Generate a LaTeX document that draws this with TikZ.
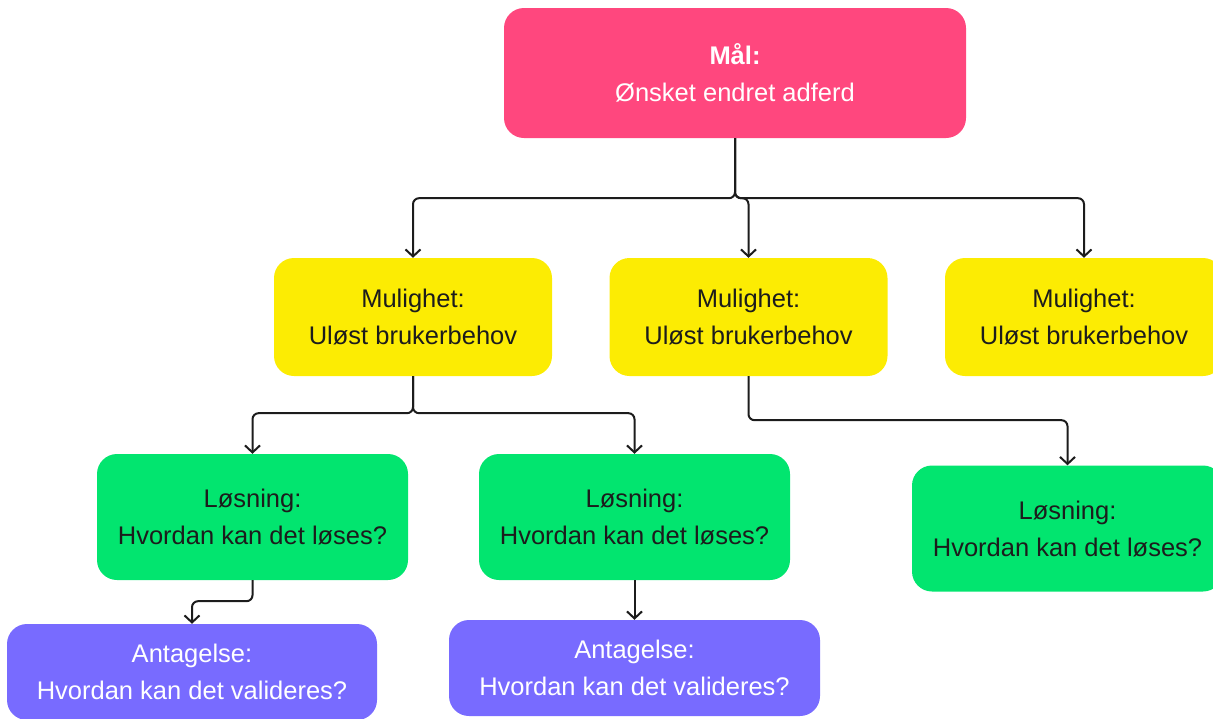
\documentclass[tikz,border=0pt]{standalone}
\usepackage{fontspec}
\setmainfont{Liberation Sans}
\usetikzlibrary{arrows.meta}
\definecolor{goalpink}{HTML}{FF477E}
\definecolor{oppyellow}{HTML}{FCEC03}
\definecolor{solgreen}{HTML}{02E56F}
\definecolor{assumpurple}{HTML}{786BFF}
\definecolor{inkdark}{HTML}{1C1C1C}
\tikzset{
  card/.style={rectangle, rounded corners=20pt, inner sep=0pt, draw=none,
    align=center, font=\fontsize{25.5}{37}\selectfont},
  goalbox/.style={card, fill=goalpink, text=white, minimum width=462pt, minimum height=130pt},
  oppbox/.style={card, fill=oppyellow, text=inkdark, minimum width=278pt, minimum height=118pt},
  solbox/.style={card, fill=solgreen, text=inkdark, minimum width=311pt, minimum height=126pt},
  assumbox/.style={card, fill=assumpurple, text=white, minimum width=371pt, minimum height=96pt},
  conn/.style={draw=inkdark, line width=2pt, rounded corners=6pt,
    -{Straight Barb[length=7pt,width=15pt,line width=2pt]}}
}
\begin{document}
\begin{tikzpicture}[x=1pt,y=-1pt]
\useasboundingbox (0,0) rectangle (1213,718);
\clip (0,0) rectangle (1213,718);

% goal
\node[goalbox] (goal) at (735,73) {\textbf{Mål:}\\Ønsket endret adferd};

% opportunities
\node[oppbox] (opp1) at (413,317) {Mulighet:\\Uløst brukerbehov};
\node[oppbox] (opp2) at (748.5,317) {Mulighet:\\Uløst brukerbehov};
\node[oppbox] (opp3) at (1084,317) {Mulighet:\\Uløst brukerbehov};

% solutions
\node[solbox] (sol1) at (252.5,517) {Løsning:\\Hvordan kan det løses?};
\node[solbox] (sol2) at (634.5,517) {Løsning:\\Hvordan kan det løses?};
\node[solbox] (sol3) at (1067.5,528.5) {Løsning:\\Hvordan kan det løses?};

% assumptions
\node[assumbox, minimum width=370pt] (asm1) at (192,672) {Antagelse:\\Hvordan kan det valideres?};
\node[assumbox] (asm2) at (634.5,668) {Antagelse:\\Hvordan kan det valideres?};

% goal -> opportunities
\draw[conn] (goal.south) -- ++(0,60) -| (opp1.north);
\draw[conn] (goal.south) -- ++(0,60) -| (opp2.north);
\draw[conn] (goal.south) -- ++(0,60) -| (opp3.north);

% opportunities -> solutions
\draw[conn] (opp1.south) -- ++(0,37) -| (sol1.north);
\draw[conn] (opp1.south) -- ++(0,37) -| (sol2.north);
\draw[conn] (opp2.south) -- ++(0,44) -| (sol3.north);

% solutions -> assumptions
\draw[conn] (sol1.south) -- ++(0,21) -| (asm1.north);
\draw[conn] (sol2.south) -- (asm2.north);
\end{tikzpicture}
\end{document}
